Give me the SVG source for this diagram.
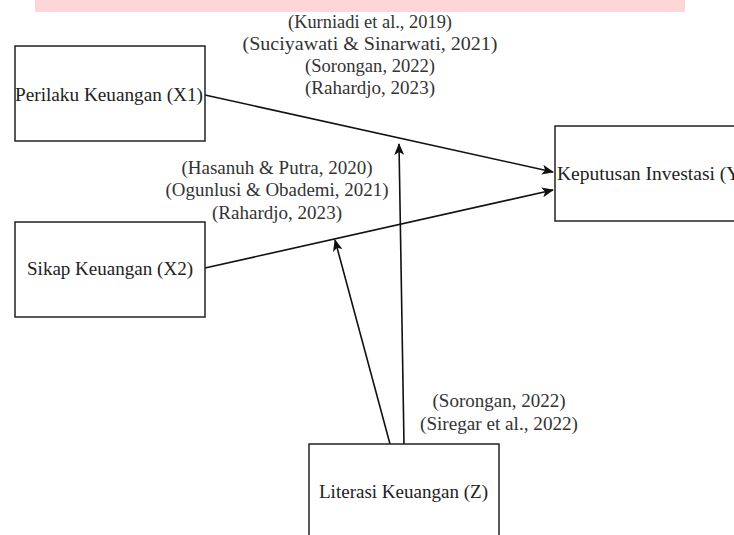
<svg xmlns="http://www.w3.org/2000/svg" width="734" height="535" viewBox="0 0 734 535">
<defs>
<style>
.box{fill:#fff;stroke:#222;stroke-width:1.5}
.t{font-family:"Liberation Serif","Times New Roman",serif;font-size:19px;fill:#222}
.lbl{font-family:"Liberation Serif","Times New Roman",serif;font-size:19px;fill:#333;text-anchor:middle}
.edge{stroke:#111;stroke-width:1.6;fill:none;marker-end:url(#ah)}
</style>
<marker id="ah" viewBox="0 0 12 10" refX="11" refY="5" markerWidth="12" markerHeight="10" markerUnits="userSpaceOnUse" orient="auto">
<path d="M0,0 L12,5 L0,10 L3,5 Z" fill="#111"/>
</marker>
</defs>
<rect width="734" height="535" fill="#fff"/>
<rect x="35" y="0" width="650" height="12" fill="#ffd6d8"/>
<g id="connectors">
<line class="edge" x1="205" y1="95" x2="553" y2="172"/>
<line class="edge" x1="205" y1="268" x2="553" y2="190"/>
<line class="edge" x1="404" y1="444" x2="399" y2="144"/>
<line class="edge" x1="390" y1="444" x2="335" y2="240"/>
</g>
<g id="labels">
<text class="lbl" x="370" y="28" textLength="164" lengthAdjust="spacingAndGlyphs">(Kurniadi et al., 2019)</text>
<text class="lbl" x="370" y="50" textLength="255" lengthAdjust="spacingAndGlyphs">(Suciyawati &amp; Sinarwati, 2021)</text>
<text class="lbl" x="370" y="72" textLength="130" lengthAdjust="spacingAndGlyphs">(Sorongan, 2022)</text>
<text class="lbl" x="370" y="94" textLength="130" lengthAdjust="spacingAndGlyphs">(Rahardjo, 2023)</text>
<text class="lbl" x="277" y="174" textLength="191" lengthAdjust="spacingAndGlyphs">(Hasanuh &amp; Putra, 2020)</text>
<text class="lbl" x="277" y="196" textLength="223" lengthAdjust="spacingAndGlyphs">(Ogunlusi &amp; Obademi, 2021)</text>
<text class="lbl" x="277" y="219" textLength="130" lengthAdjust="spacingAndGlyphs">(Rahardjo, 2023)</text>
<text class="lbl" x="499" y="407" textLength="133" lengthAdjust="spacingAndGlyphs">(Sorongan, 2022)</text>
<text class="lbl" x="499" y="430" textLength="158" lengthAdjust="spacingAndGlyphs">(Siregar et al., 2022)</text>
</g>
<g id="node-x1">
<rect class="box" x="15" y="46" width="190" height="95"/>
<text class="t" x="15" y="101" textLength="188" lengthAdjust="spacingAndGlyphs">Perilaku Keuangan (X1)</text>
</g>
<g id="node-x2">
<rect class="box" x="15" y="222" width="190" height="95"/>
<text class="t" x="27" y="275" textLength="166" lengthAdjust="spacingAndGlyphs">Sikap Keuangan (X2)</text>
</g>
<g id="node-y">
<rect class="box" x="555" y="126" width="200" height="95"/>
<text class="t" x="557" y="180" textLength="190" lengthAdjust="spacingAndGlyphs">Keputusan Investasi (Y)</text>
</g>
<g id="node-z">
<rect class="box" x="309" y="444" width="190" height="110"/>
<text class="t" x="319" y="498" textLength="169" lengthAdjust="spacingAndGlyphs">Literasi Keuangan (Z)</text>
</g>
</svg>
